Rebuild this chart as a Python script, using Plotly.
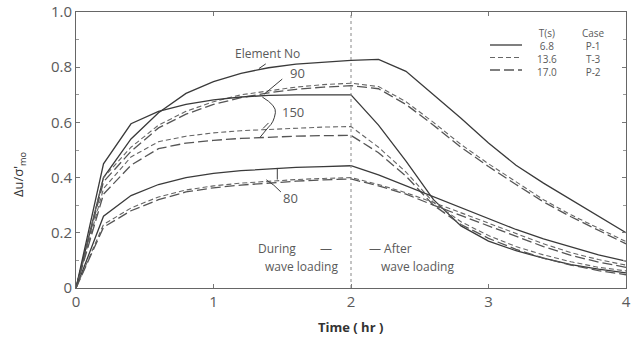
import plotly.graph_objects as go

# ---------------- data ----------------
time_hr = [0, 0.2, 0.4, 0.6, 0.8, 1.0, 1.2, 1.4, 1.6, 1.8, 2.0,
           2.2, 2.4, 2.6, 2.8, 3.0, 3.2, 3.4, 3.6, 3.8, 4.0]

# Element 90
e90_P1 = [0, 0.40, 0.54, 0.635, 0.705, 0.748, 0.778, 0.798, 0.811, 0.819, 0.825,
          0.828, 0.785, 0.70, 0.615, 0.525, 0.445, 0.38, 0.32, 0.26, 0.20]
e90_T3 = [0, 0.40, 0.51, 0.59, 0.64, 0.675, 0.70, 0.715, 0.728, 0.737, 0.742,
          0.73, 0.675, 0.60, 0.52, 0.45, 0.385, 0.32, 0.265, 0.215, 0.168]
e90_P2 = [0, 0.385, 0.495, 0.58, 0.63, 0.665, 0.69, 0.707, 0.72, 0.728, 0.733,
          0.722, 0.665, 0.59, 0.51, 0.44, 0.375, 0.312, 0.258, 0.208, 0.16]

# Element 150
e150_P1 = [0, 0.45, 0.595, 0.64, 0.665, 0.682, 0.692, 0.698, 0.70, 0.70, 0.70,
           0.59, 0.46, 0.32, 0.225, 0.17, 0.135, 0.108, 0.085, 0.068, 0.055]
e150_T3 = [0, 0.36, 0.475, 0.53, 0.55, 0.562, 0.57, 0.575, 0.58, 0.583, 0.585,
           0.51, 0.42, 0.31, 0.24, 0.19, 0.15, 0.12, 0.095, 0.075, 0.062]
e150_P2 = [0, 0.34, 0.445, 0.505, 0.525, 0.535, 0.542, 0.547, 0.55, 0.552, 0.553,
           0.49, 0.405, 0.30, 0.23, 0.18, 0.14, 0.108, 0.083, 0.063, 0.048]

# Element 80
e80_P1 = [0, 0.26, 0.335, 0.375, 0.40, 0.415, 0.425, 0.432, 0.437, 0.44, 0.443,
          0.41, 0.37, 0.33, 0.29, 0.25, 0.212, 0.178, 0.148, 0.12, 0.097]
e80_T3 = [0, 0.23, 0.29, 0.33, 0.355, 0.37, 0.38, 0.387, 0.393, 0.397, 0.40,
          0.375, 0.345, 0.31, 0.272, 0.235, 0.197, 0.16, 0.128, 0.103, 0.083]
e80_P2 = [0, 0.22, 0.28, 0.32, 0.348, 0.363, 0.373, 0.381, 0.387, 0.392, 0.395,
          0.37, 0.34, 0.30, 0.262, 0.225, 0.187, 0.15, 0.118, 0.094, 0.075]

periods = ["6.8", "13.6", "17.0"]
cases = ["P-1", "T-3", "P-2"]
x_ticks = [0, 1, 2, 3, 4]
x_ticklabels = ["0", "1", "2", "3", "4"]
y_ticks = [0, 0.2, 0.4, 0.6, 0.8, 1.0]
y_ticklabels = ["0", "0.2", "0.4", "0.6", "0.8", "1.0"]

# ---------------- styling ----------------
FONT = "Open Sans"
INK = "#3c3c3c"
TXT = "#5a5a5a"
dash_styles = {"P-1": "solid", "T-3": "5px,3px", "P-2": "10px,4px"}
colors = {"P-1": "#3a3a3a", "T-3": "#666666", "P-2": "#555555"}
widths = {"P-1": 1.3, "T-3": 1.1, "P-2": 1.3}

series = [
    (e90_P1, "P-1"), (e90_T3, "T-3"), (e90_P2, "P-2"),
    (e150_P1, "P-1"), (e150_T3, "T-3"), (e150_P2, "P-2"),
    (e80_P1, "P-1"), (e80_T3, "T-3"), (e80_P2, "P-2"),
]

fig = go.Figure()
for vals, case in series:
    fig.add_trace(go.Scatter(
        x=time_hr, y=vals, mode="lines", showlegend=False,
        line=dict(color=colors[case], width=widths[case], dash=dash_styles[case]),
    ))

# plot-area geometry (pixels)
L, R, T, B = 76, 10, 12, 49
W, H = 636 - L - R, 337 - T - B


def px(xp, yp):
    return (xp - L) / W, (337 - B - yp) / H


shapes = []
# vertical dashed line at t = 2
shapes.append(dict(type="line", xref="x", yref="paper", x0=2, x1=2, y0=0, y1=1,
                   line=dict(color="#888888", width=1, dash="3px,3px")))
# leader lines
shapes.append(dict(type="line", xref="x", yref="y", x0=1.50, y0=0.757, x1=1.37, y1=0.703,
                   line=dict(color=INK, width=1)))
shapes.append(dict(type="line", xref="x", yref="y", x0=1.33, y0=0.795, x1=1.38, y1=0.812,
                   line=dict(color=INK, width=1)))
shapes.append(dict(type="path", xref="x", yref="y",
                   path="M1.355,0.692 Q1.46,0.66 1.45,0.635 Q1.44,0.60 1.40,0.583 L1.34,0.547",
                   line=dict(color=INK, width=1)))
shapes.append(dict(type="line", xref="x", yref="y", x0=1.36, y0=0.578, x1=1.40, y1=0.598,
                   line=dict(color=INK, width=1)))
shapes.append(dict(type="path", xref="x", yref="y",
                   path="M1.384,0.392 Q1.44,0.375 1.49,0.348",
                   line=dict(color=INK, width=1)))
shapes.append(dict(type="line", xref="x", yref="y", x0=1.464, y0=0.435, x1=1.464, y1=0.393,
                   line=dict(color=INK, width=1)))

# legend samples
legend_rows_y = [45, 57.5, 70]
for i, case in enumerate(cases):
    x0, y0 = px(490, legend_rows_y[i])
    x1, _ = px(522, legend_rows_y[i])
    shapes.append(dict(type="line", xref="paper", yref="paper", x0=x0, x1=x1, y0=y0, y1=y0,
                       line=dict(color=colors[case], width=widths[case], dash=dash_styles[case])))

annotations = []


def txt(text, xp, yp, size=12, xanchor="center", yanchor="middle", color=TXT):
    xx, yy = px(xp, yp)
    annotations.append(dict(text=text, x=xx, y=yy, xref="paper", yref="paper",
                            showarrow=False, xanchor=xanchor, yanchor=yanchor,
                            font=dict(family=FONT, size=size, color=color)))


# legend columns as single multi-line texts (line pitch ~13 px)
txt("T(s)<br>" + "<br>".join(periods), 547, 24, size=10, yanchor="top")
txt("Case<br>" + "<br>".join(cases), 593, 24, size=10, yanchor="top")

txt("Element No", 267, 53)
txt("90", 297, 73, size=13)
txt("150", 293, 112, size=13)
txt("80", 290, 198, size=13)
txt("During", 277, 248)
txt("\u2014", 326, 248)
txt("\u2014 After", 390, 248)
txt("wave loading", 301, 266)
txt("wave loading", 417, 266)

# axis titles placed explicitly
annotations.append(dict(text="<b>Time ( hr )</b>", x=px(350, 327)[0], y=px(350, 327)[1],
                        xref="paper", yref="paper", showarrow=False,
                        xanchor="center", yanchor="middle",
                        font=dict(family=FONT, size=13, color="#333333")))
annotations.append(dict(text="\u0394u/\u03c3'<sub>mo</sub>", x=px(19, 175)[0], y=px(19, 175)[1],
                        xref="paper", yref="paper", showarrow=False, textangle=-90,
                        xanchor="center", yanchor="middle",
                        font=dict(family=FONT, size=13, color="#333333")))

fig.update_layout(
    width=636, height=337,
    margin=dict(l=L, r=R, t=T, b=B, autoexpand=False),
    paper_bgcolor="white", plot_bgcolor="white",
    font=dict(family=FONT, color=TXT),
    shapes=shapes, annotations=annotations,
    xaxis=dict(range=[0, 4.0], tickvals=x_ticks, ticktext=x_ticklabels, automargin=False,
               showgrid=False, zeroline=False, showline=True, linecolor="#666666",
               linewidth=1, mirror="ticks", ticks="inside", ticklen=4, tickcolor="#777777",
               tickfont=dict(family=FONT, size=15, color=TXT)),
    yaxis=dict(range=[0, 1.0], tickvals=y_ticks, ticktext=y_ticklabels, automargin=False,
               showgrid=False, zeroline=False, showline=True, linecolor="#666666",
               linewidth=1, mirror="ticks", ticks="inside", ticklen=4, tickcolor="#777777",
               minor=dict(dtick=0.1, ticks="inside", ticklen=3, tickcolor="#999999"),
               tickfont=dict(family=FONT, size=15, color=TXT)),
)

fig.write_html("out.html")
